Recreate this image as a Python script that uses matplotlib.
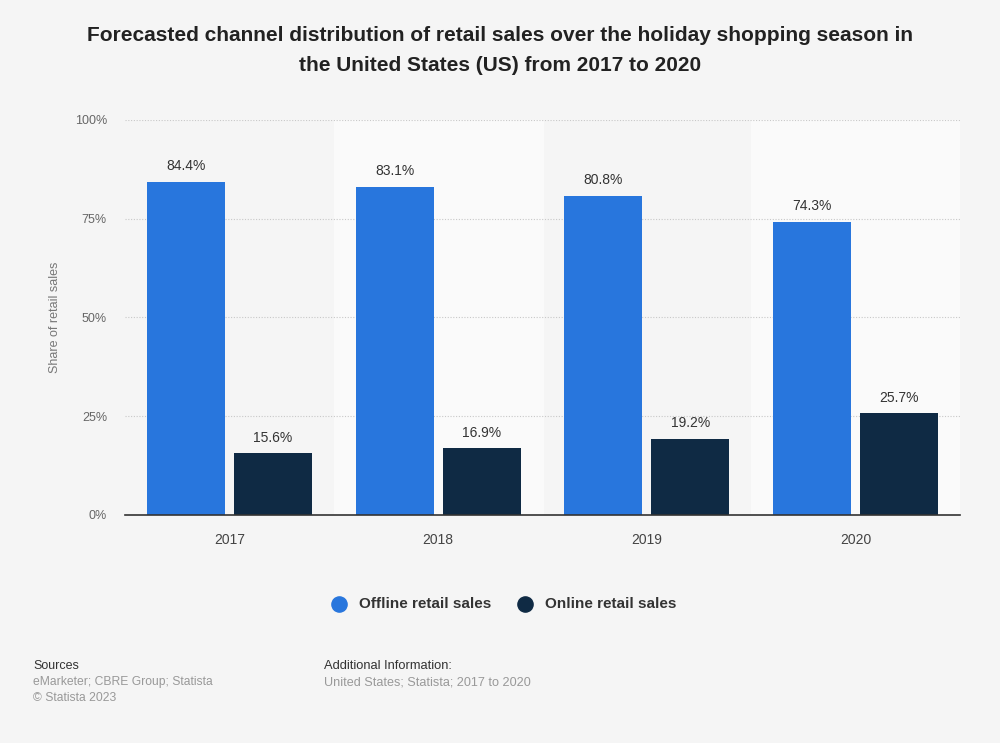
import matplotlib
matplotlib.use('Agg')
import matplotlib.pyplot as plt
import numpy as np

years = ['2017', '2018', '2019', '2020']
offline = [84.4, 83.1, 80.8, 74.3]
online = [15.6, 16.9, 19.2, 25.7]
yticks = [0, 25, 50, 75, 100]

plt.rcParams['font.family'] = ['Liberation Sans', 'DejaVu Sans']

bg = '#f5f5f5'
c_off = '#2876dd'
c_on = '#0f2a44'

fig = plt.figure(figsize=(10, 7.43), dpi=100, facecolor=bg)
ax = fig.add_axes([0.125, 0.3069, 0.835, 0.5316])
ax.set_facecolor(bg)

x = np.arange(len(years))
w = 0.374
off = 0.208

# lighter bands behind every other year
for i in x:
    if i % 2 == 1:
        ax.axvspan(i - 0.5, i + 0.5, color='#fafafa', zorder=0)

for yv in yticks[1:]:
    ax.axhline(yv, color='#c8c8c8', lw=0.8, ls=(0, (1, 1.5)), zorder=1)

b1 = ax.bar(x - off, offline, w, color=c_off, zorder=2)
b2 = ax.bar(x + off, online, w, color=c_on, zorder=2)

for bars, vals in [(b1, offline), (b2, online)]:
    for b, v in zip(bars, vals):
        ax.text(b.get_x() + b.get_width() / 2, v + 2.2, '%.1f%%' % v,
                ha='center', va='bottom', fontsize=10, color='#333333')

ax.set_xlim(-0.5, 3.5)
ax.set_ylim(0, 100)
ax.set_yticks(yticks)
ax.set_yticklabels(['%d%%' % v for v in yticks])
ax.set_xticks(x)
ax.set_xticklabels(years)
ax.tick_params(axis='y', length=0, pad=13, labelsize=9, labelcolor='#666666')
ax.tick_params(axis='x', length=0, pad=13, labelsize=10, labelcolor='#444444')
for s in ['top', 'right', 'left']:
    ax.spines[s].set_visible(False)
ax.spines['bottom'].set_color('#333333')
ax.spines['bottom'].set_linewidth(1.2)
ax.set_ylabel('Share of retail sales', fontsize=9, color='#777777')
ax.yaxis.set_label_coords(-0.077, 0.5)

fig.text(0.5, 0.952, 'Forecasted channel distribution of retail sales over the holiday shopping season in',
         ha='center', va='center', fontsize=15, fontweight='bold', color='#222222')
fig.text(0.5, 0.912, 'the United States (US) from 2017 to 2020',
         ha='center', va='center', fontsize=15, fontweight='bold', color='#222222')

h1 = ax.scatter([], [], s=120, color=c_off, marker='o')
h2 = ax.scatter([], [], s=120, color=c_on, marker='o')
fig.legend([h1, h2], ['Offline retail sales', 'Online retail sales'],
           loc='center', bbox_to_anchor=(0.5, 0.187), ncol=2, frameon=False,
           prop={'weight': 'bold', 'size': 11}, handletextpad=0.3, columnspacing=1.2,
           labelcolor='#333333')

fig.text(0.033, 0.103, 'Sources', fontsize=9, color='#333333', va='center')
fig.text(0.033, 0.082, 'eMarketer; CBRE Group; Statista', fontsize=8.7, color='#999999', va='center')
fig.text(0.033, 0.061, '\u00a9 Statista 2023', fontsize=8.7, color='#999999', va='center')
fig.text(0.324, 0.103, 'Additional Information:', fontsize=9.3, color='#333333', va='center')
fig.text(0.324, 0.082, 'United States; Statista; 2017 to 2020', fontsize=9.1, color='#999999', va='center')

fig.savefig('out.png', dpi=100, facecolor=bg)
